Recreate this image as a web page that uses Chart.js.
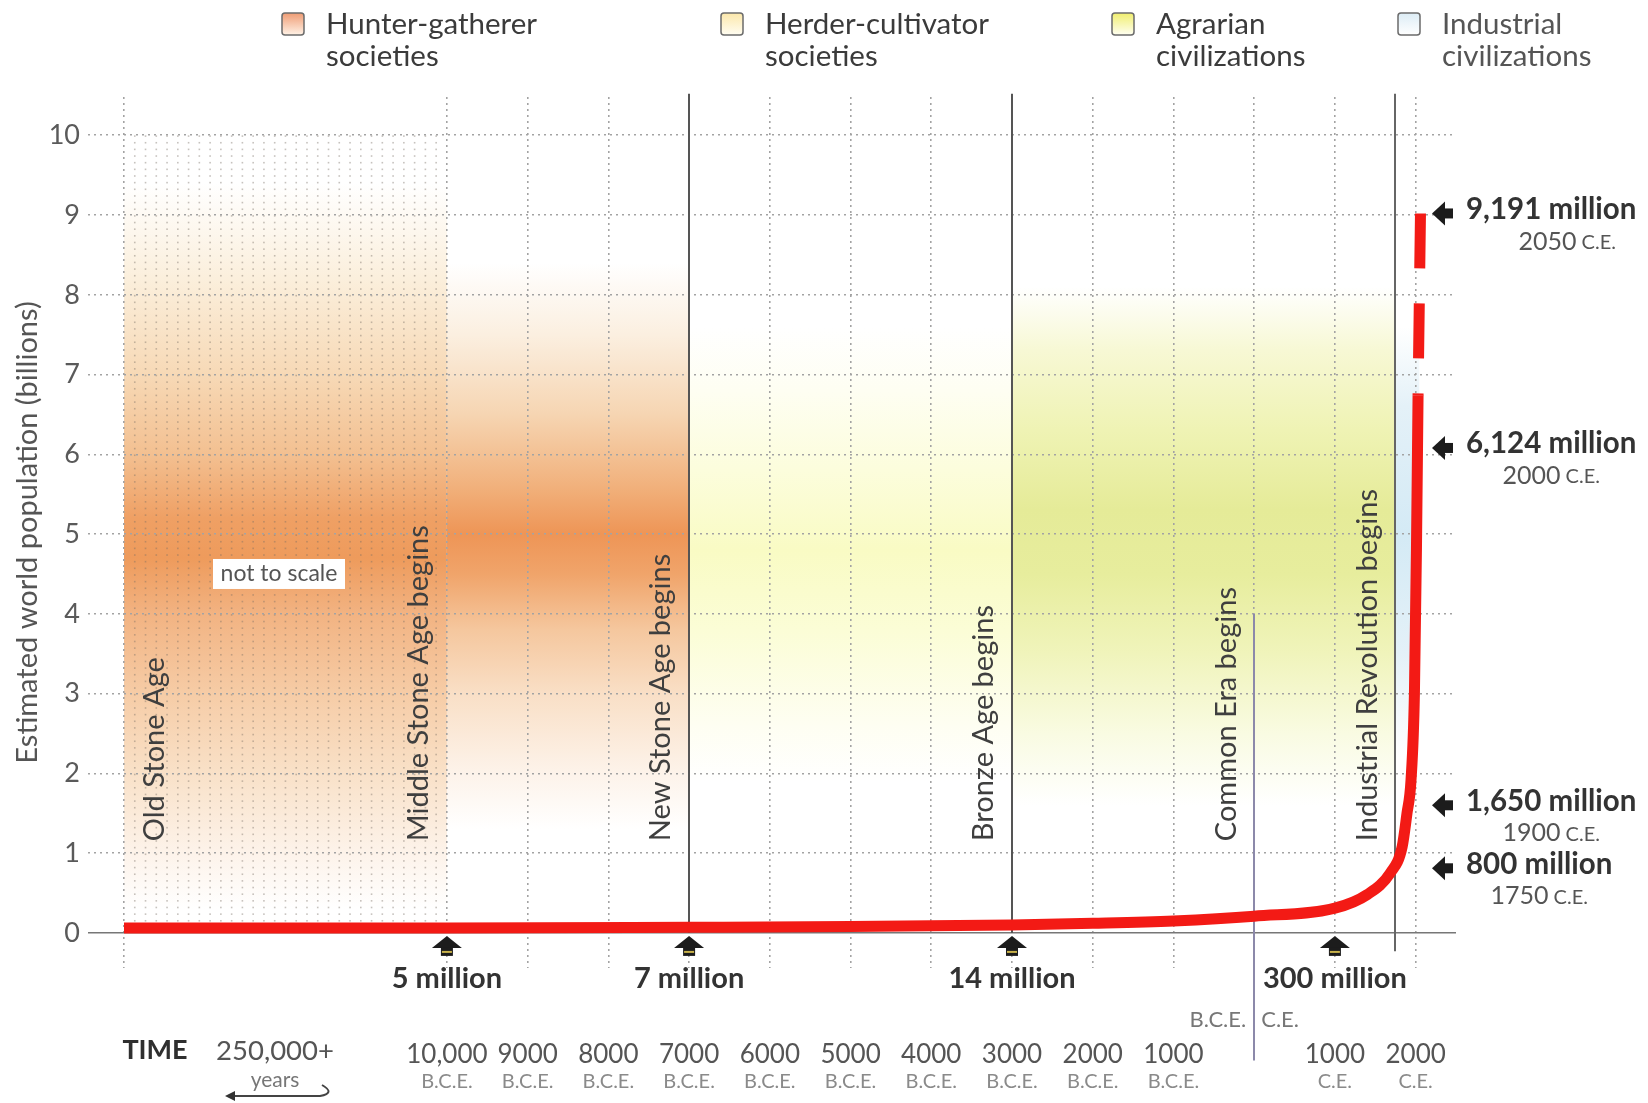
<!DOCTYPE html>
<html>
<head>
<meta charset="utf-8">
<title>Estimated world population</title>
<script src="https://cdn.jsdelivr.net/npm/chart.js@4.4.1/dist/chart.umd.min.js"></script>
<style>
html, body { margin: 0; padding: 0; background: #fff; }
#wrap { width: 1648px; height: 1103px; position: relative; }
</style>
</head>
<body>
<div id="wrap"><canvas id="grafPopulace"></canvas></div>
<script>
const FONT = 'Lato, "Open Sans", sans-serif';

// population curve as drawn (years, billions)
const curveYears = [-14000, -10000, -7000, -5000, -3000, -2000, -1000, 0, 1000, 1400, 1685, 1833, 1893, 1943, 1985, 2010, 2030];
const curveValues = [0.06, 0.06, 0.07, 0.08, 0.10, 0.12, 0.15, 0.21, 0.31, 0.48, 0.75, 1.08, 1.5, 1.92, 3.0, 4.8, 6.74];
// projection (dashed), drawn from the top down
const projYears = [2060, 2030];
const projValues = [9.02, 6.74];

const gridYears = [-14000, -10000, -9000, -8000, -7000, -6000, -5000, -4000, -3000, -2000, -1000, 0, 1000, 2000];
const yearLabels = ['', '10,000', '9000', '8000', '7000', '6000', '5000', '4000', '3000', '2000', '1000', '', '1000', '2000'];
const eraLabels = ['', 'B.C.E.', 'B.C.E.', 'B.C.E.', 'B.C.E.', 'B.C.E.', 'B.C.E.', 'B.C.E.', 'B.C.E.', 'B.C.E.', 'B.C.E.', '', 'C.E.', 'C.E.'];
const yTicks = [0, 1, 2, 3, 4, 5, 6, 7, 8, 9, 10];

const eventYears = [-14000, -10000, -7000, -3000, 0, 1750];
const eventNames = ['Old Stone Age', 'Middle Stone Age begins', 'New Stone Age begins', 'Bronze Age begins', 'Common Era begins', 'Industrial Revolution begins'];

const popYears = [-10000, -7000, -3000, 1000];
const popLabels = ['5 million', '7 million', '14 million', '300 million'];

const recentValues = [9.02, 6.08, 1.6, 0.81];
const recentLabels = ['9,191 million', '6,124 million', '1,650 million', '800 million'];
const recentYears = ['2050', '2000', '1900', '1750'];

const societyNames = [['Hunter-gatherer', 'societies'], ['Herder-cultivator', 'societies'], ['Agrarian', 'civilizations'], ['Industrial', 'civilizations']];
const societyStart = [-14000, -7000, -3000, 1750];
const societyEnd = [-7000, -3000, 1750, 2045];

// styles: colour bands behind the grid (from year, to year, stops by value)
const bands = [
    [-14000, -10000, [[9.4, '#ffffff'], [8.2, '#fbefdc'], [7, '#f7d9b6'], [6, '#f3c091'], [5.2, '#efa064'], [4.7, '#ee9b5c'], [4, '#f2b382'], [3, '#f6cca6'], [2, '#f9e1c8'], [1, '#fdf3ea'], [0.3, '#ffffff']]],
    [-10000, -7000, [[8.4, '#ffffff'], [7.5, '#fbefe0'], [6.5, '#f6d5b2'], [5.6, '#f1b17c'], [5.0, '#ee9556'], [4.5, '#f0a46a'], [3.8, '#f5c79e'], [3, '#f9dfc6'], [2, '#fdf3ea'], [1.3, '#ffffff']]],
    [-7000, -3000, [[7.6, '#ffffff'], [6.8, '#fefef2'], [5.8, '#fcfddc'], [4.8, '#f9fbc4'], [3.8, '#fbfdd6'], [2.6, '#fefef2'], [1.9, '#ffffff']]],
    [-3000, 1750, [[8.1, '#ffffff'], [7.3, '#f7f8d4'], [6.3, '#eff3b4'], [5.3, '#e5eb98'], [4.5, '#e7ed9d'], [3.5, '#f0f4bb'], [2.5, '#f9fbe2'], [1.6, '#ffffff']]],
    [1750, 2045, [[7.6, '#ffffff'], [6.6, '#e4f1f8'], [5, '#d4eaf5'], [3.5, '#e4f1f8'], [2.2, '#ffffff']]]
];
const legendColors = [['#ef9c74', '#fff2e6'], ['#fbe7aa', '#fffdf2'], ['#f0ee6e', '#fffff2'], ['#dcecf5', '#ffffff']];

function bandGradient(ctx, y, stops) {
    const top = y.getPixelForValue(stops[0][0]);
    const bottom = y.getPixelForValue(stops[stops.length - 1][0]);
    const g = ctx.createLinearGradient(0, top, 0, bottom);
    stops.forEach(s => g.addColorStop((y.getPixelForValue(s[0]) - top) / (bottom - top), s[1]));
    return { g: g, top: top, bottom: bottom };
}

const dekorace = {
    id: 'dekorace',
    beforeDraw(chart) {
        const { ctx, scales: { x, y } } = chart;
        ctx.save();
        ctx.fillStyle = '#fff';
        ctx.fillRect(0, 0, chart.width, chart.height);

        bands.forEach(band => {
            const b = bandGradient(ctx, y, band[2]);
            const x0 = x.getPixelForValue(band[0]);
            const x1 = x.getPixelForValue(band[1]);
            ctx.fillStyle = b.g;
            ctx.fillRect(x0, b.top, x1 - x0, b.bottom - b.top);
        });

        // dotted texture of the compressed 250,000 years
        const xa = x.getPixelForValue(-14000), xb = x.getPixelForValue(-10000);
        const ya = y.getPixelForValue(10), yb = y.getPixelForValue(0);
        ctx.fillStyle = 'rgba(120, 110, 100, 0.42)';
        for (let i = 1; i < 30; i++) {
            const px = xa + (xb - xa) * i / 30;
            for (let py = ya; py < yb - 4; py += 6.65) {
                ctx.fillRect(px - 0.8, py, 1.6, 1.6);
            }
        }
        ctx.restore();
    },
    beforeDatasetsDraw(chart) {
        const { ctx, scales: { x, y } } = chart;
        ctx.save();
        const lines = [[-7000, 10.52, 0, '#555'], [-3000, 10.52, 0, '#555'], [1750, 10.52, -0.23, '#666'], [0, 4.0, -1.6, '#8c89aa']];
        lines.forEach(l => {
            const px = Math.round(x.getPixelForValue(l[0]));
            ctx.strokeStyle = l[3];
            ctx.lineWidth = 2;
            ctx.beginPath();
            ctx.moveTo(px, y.getPixelForValue(l[1]));
            ctx.lineTo(px, y.getPixelForValue(l[2]));
            ctx.stroke();
        });
        ctx.restore();
    },
    afterDraw(chart) {
        const { ctx, chartArea: a, scales: { x, y } } = chart;
        ctx.save();

        // legend
        const legendX = [282, 721, 1112, 1398];
        societyNames.forEach((lines, i) => {
            const bx = legendX[i];
            const g = ctx.createLinearGradient(0, 13, 0, 35);
            g.addColorStop(0, legendColors[i][0]);
            g.addColorStop(1, legendColors[i][1]);
            ctx.beginPath();
            if (ctx.roundRect) ctx.roundRect(bx, 13, 22, 22, 3); else ctx.rect(bx, 13, 22, 22);
            ctx.fillStyle = g;
            ctx.fill();
            ctx.strokeStyle = '#6b6b6b';
            ctx.lineWidth = 1.5;
            ctx.stroke();
            ctx.fillStyle = i === 3 ? '#555' : '#3b3b3b';
            ctx.font = '29.5px ' + FONT;
            ctx.textAlign = 'left';
            ctx.textBaseline = 'middle';
            ctx.fillText(lines[0], bx + 44, 24);
            ctx.fillText(lines[1], bx + 44, 56);
        });

        // rotated era labels
        ctx.font = '29px ' + FONT;
        ctx.fillStyle = '#3f3f3f';
        eventYears.forEach((yr, i) => {
            const px = x.getPixelForValue(yr) + (i === 0 ? 31 : -28);
            ctx.save();
            ctx.translate(px, y.getPixelForValue(1.15));
            ctx.rotate(-Math.PI / 2);
            ctx.textAlign = 'left';
            ctx.textBaseline = 'middle';
            ctx.fillText(eventNames[i], 0, 0);
            ctx.restore();
        });

        // "not to scale" box
        const nx = x.getPixelForValue(-12080), ny = y.getPixelForValue(4.5);
        ctx.fillStyle = '#fff';
        ctx.fillRect(nx - 66, ny - 15, 132, 30);
        ctx.fillStyle = '#555';
        ctx.font = '23px ' + FONT;
        ctx.textAlign = 'center';
        ctx.textBaseline = 'middle';
        ctx.fillText('not to scale', nx, ny);

        // population marks under the axis
        const y0 = y.getPixelForValue(0);
        popYears.forEach((yr, i) => {
            const cx = x.getPixelForValue(yr), ty = y0 + 3;
            ctx.fillStyle = '#1c1c1c';
            ctx.beginPath();
            ctx.moveTo(cx, ty);
            ctx.lineTo(cx + 15, ty + 12);
            ctx.lineTo(cx - 15, ty + 12);
            ctx.closePath();
            ctx.fill();
            ctx.fillRect(cx - 6, ty + 12, 12, 8);
            ctx.fillStyle = '#c9b24a';
            ctx.fillRect(cx - 5, ty + 15, 10, 2);
            ctx.fillStyle = '#333';
            ctx.font = 'bold 29px ' + FONT;
            ctx.textAlign = 'center';
            ctx.textBaseline = 'middle';
            ctx.fillText(popLabels[i], cx, y0 + 46);
        });

        // recent populations on the right
        recentValues.forEach((v, i) => {
            const py = y.getPixelForValue(v), tx = a.right - 24;
            ctx.fillStyle = '#1c1c1c';
            ctx.beginPath();
            ctx.moveTo(tx, py);
            ctx.lineTo(tx + 13, py - 12);
            ctx.lineTo(tx + 13, py + 12);
            ctx.closePath();
            ctx.fill();
            ctx.fillRect(tx + 13, py - 5, 8, 10);
            ctx.fillStyle = '#333';
            ctx.font = 'bold 29.5px ' + FONT;
            ctx.textAlign = 'left';
            ctx.textBaseline = 'middle';
            ctx.fillText(recentLabels[i], a.right + 10, py - 4);
            const w = ctx.measureText(recentLabels[i]).width;
            ctx.font = '25px ' + FONT;
            const w1 = ctx.measureText(recentYears[i]).width;
            ctx.font = '20px ' + FONT;
            const w2 = ctx.measureText(' C.E.').width;
            const sx = a.right + 10 + w / 2 - (w1 + w2) / 2 + (i === 0 ? 16 : 0);
            ctx.fillStyle = '#555';
            ctx.font = '25px ' + FONT;
            ctx.fillText(recentYears[i], sx, py + 28);
            ctx.font = '20px ' + FONT;
            ctx.fillText(' C.E.', sx + w1, py + 29);
        });

        // B.C.E. | C.E.
        const xc = x.getPixelForValue(0);
        ctx.fillStyle = '#777';
        ctx.font = '22px ' + FONT;
        ctx.textBaseline = 'middle';
        ctx.textAlign = 'right';
        ctx.fillText('B.C.E.', xc - 8, 1020);
        ctx.textAlign = 'left';
        ctx.fillText('C.E.', xc + 7, 1020);

        // TIME, 250,000+ years
        ctx.textAlign = 'center';
        ctx.fillStyle = '#2f2f2f';
        ctx.font = 'bold 27px ' + FONT;
        ctx.fillText('TIME', a.left + 31, 1050);
        ctx.fillStyle = '#555';
        ctx.font = '27.5px ' + FONT;
        ctx.fillText('250,000+', a.left + 151, 1051);
        ctx.fillStyle = '#777';
        ctx.font = '21px ' + FONT;
        ctx.fillText('years', a.left + 151, 1080);
        ctx.strokeStyle = '#444';
        ctx.lineWidth = 2;
        ctx.beginPath();
        ctx.moveTo(a.left + 198, 1085);
        ctx.quadraticCurveTo(a.left + 212, 1093, a.left + 196, 1096);
        ctx.lineTo(a.left + 108, 1096);
        ctx.stroke();
        ctx.fillStyle = '#333';
        ctx.beginPath();
        ctx.moveTo(a.left + 101, 1096);
        ctx.lineTo(a.left + 111, 1091);
        ctx.lineTo(a.left + 111, 1101);
        ctx.closePath();
        ctx.fill();

        ctx.restore();
    }
};

const zeroTick = c => c.tick && c.tick.value === 0;

new Chart(document.getElementById('grafPopulace').getContext('2d'), {
    type: 'line',
    data: {
        datasets: [{
            data: curveYears.map((t, i) => ({ x: t, y: curveValues[i] })),
            borderColor: '#f31a15',
            borderWidth: 11,
            pointRadius: 0,
            cubicInterpolationMode: 'monotone',
            borderCapStyle: 'butt',
            fill: false
        }, {
            data: projYears.map((t, i) => ({ x: t, y: projValues[i] })),
            borderColor: '#f31a15',
            borderWidth: 11,
            pointRadius: 0,
            borderDash: [55, 35],
            borderCapStyle: 'butt',
            fill: false
        }]
    },
    options: {
        responsive: true,
        maintainAspectRatio: false,
        animation: false,
        layout: { padding: { top: 97, right: 192, bottom: 0, left: 0 } },
        plugins: { legend: { display: false }, tooltip: { enabled: false } },
        scales: {
            x: {
                type: 'linear',
                min: -14000,
                max: 2500,
                weight: 0,
                afterBuildTicks: s => { s.ticks = gridYears.map(v => ({ value: v })); },
                afterFit: s => { s.height = 100; },
                grid: { color: '#a3a3a3', lineWidth: 1.6, drawTicks: false },
                border: { display: false, dash: [2, 4] },
                ticks: {
                    autoSkip: false, maxRotation: 0, padding: 71,
                    color: '#555', font: { family: FONT, size: 26 },
                    callback: (v, i) => yearLabels[i]
                }
            },
            x2: {
                type: 'linear',
                position: 'bottom',
                min: -14000,
                max: 2500,
                weight: 1,
                afterBuildTicks: s => { s.ticks = gridYears.map(v => ({ value: v })); },
                afterFit: s => { s.height = 35; },
                grid: { display: false, drawTicks: false },
                border: { display: false },
                ticks: {
                    autoSkip: false, maxRotation: 0, padding: 2,
                    color: '#8a8a8a', font: { family: FONT, size: 20 },
                    callback: (v, i) => eraLabels[i]
                }
            },
            y: {
                min: -0.44,
                max: 10.48,
                afterBuildTicks: s => { s.ticks = yTicks.map(v => ({ value: v })); },
                afterFit: s => { s.width = 124; },
                grid: {
                    color: c => zeroTick(c) ? '#777' : '#a3a3a3',
                    lineWidth: 1.6,
                    tickLength: 36,
                    tickColor: c => zeroTick(c) ? '#777' : '#a3a3a3',
                    tickBorderDash: c => zeroTick(c) ? [] : [2, 4]
                },
                border: { display: false, dash: c => zeroTick(c) ? [] : [2, 4] },
                ticks: { padding: 8, color: '#5a5a5a', font: { family: FONT, size: 27 } },
                title: {
                    display: true,
                    text: 'Estimated world population (billions)',
                    color: '#555',
                    font: { family: FONT, size: 29 },
                    padding: { top: 10, bottom: 0 }
                }
            }
        }
    },
    plugins: [dekorace]
});
</script>
</body>
</html>
